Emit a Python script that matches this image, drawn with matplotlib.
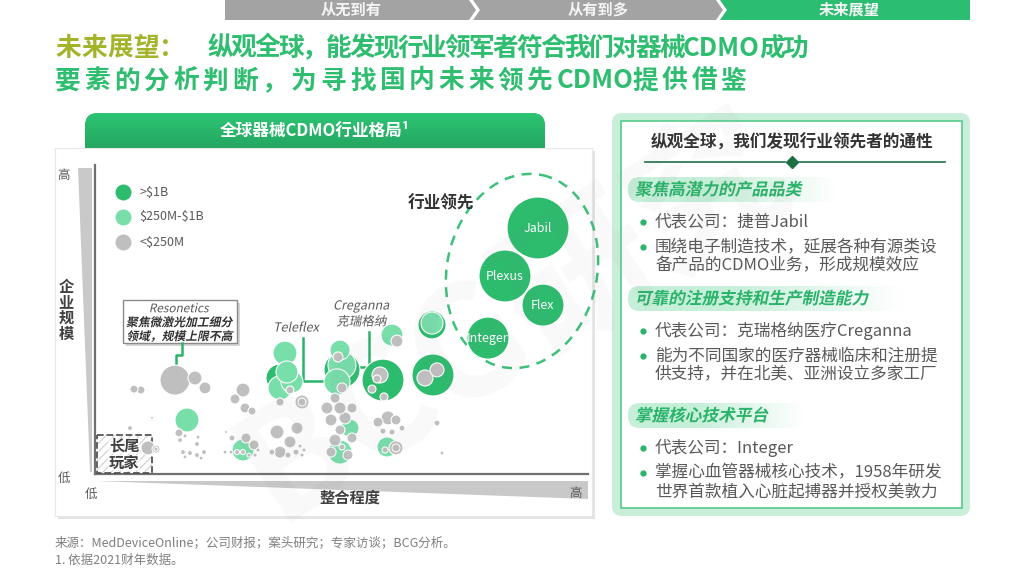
import numpy as np
import matplotlib
matplotlib.use('Agg')
import matplotlib.pyplot as plt
from matplotlib.patches import Polygon, Rectangle, FancyBboxPatch, Ellipse, PathPatch
from matplotlib.textpath import TextPath
from matplotlib.font_manager import FontProperties
from matplotlib.transforms import Affine2D
from matplotlib.colors import to_rgb, LinearSegmentedColormap

plt.rcParams['font.family'] = ['Noto Sans CJK SC', 'DejaVu Sans']
plt.rcParams['hatch.color'] = '#d0d0d0'
plt.rcParams['hatch.linewidth'] = 0.8

# ---------------- 数据 ----------------
steps = ['从无到有', '从有到多', '未来展望']
tiers = ['>$1B', '$250M-$1B', '<$250M']
tier_colors = ['#2dbb6e', '#78deaa', '#bfbfbf']
leaders = ['Jabil', 'Plexus', 'Flex', 'Integer']

# x: 整合程度 (0-100), y: 企业规模 (0-100), r: 气泡半径
big_x = [88.6, 82.0, 89.6, 78.6, 67.6, 57.6, 49.4, 37.0, 67.4]
big_y = [82.0, 66.0, 56.3, 45.3, 33.0, 31.3, 34.7, 32.0, 49.7]
big_r = [31, 26, 21, 21, 21, 21, 18, 14, 14]

mid_x = [38.0, 38.4, 39.4, 37.0, 49.0, 49.4, 48.4, 59.4, 67.4, 18.4, 29.6, 51.0, 49.0, 58.4]
mid_y = [40.3, 34.0, 30.7, 28.7, 41.3, 36.3, 30.7, 46.3, 50.3, 18.0, 8.0, 15.3, 7.3, 9.0]
mid_r = [12, 11, 11, 12, 10, 14, 13, 11, 11, 12, 11, 9, 12, 10]

small_x = [16.0, 20.0, 22.0, 7.8, 9.2, 16.8, 7.0, 11.4, 10.6, 12.2, 12.2,
           17.0, 18.0, 20.6, 20.4, 17.6, 19.0, 20.4, 21.8, 18.0, 21.2, 26.2,
           29.6, 28.0, 30.0, 31.4, 27.4, 30.2, 31.8, 26.0, 27.2, 28.4, 29.6, 30.8, 32.0, 32.6,
           36.4, 40.4, 39.0, 37.0, 38.6, 40.2, 41.4, 41.0, 41.8, 35.4,
           39.0, 37.0, 41.4, 41.4,
           48.6, 49.4, 48.0, 46.4, 49.0, 51.4, 47.2, 50.0, 49.0, 48.0, 51.4, 47.2, 50.6, 49.4,
           57.0, 56.4, 55.4, 57.8, 60.4, 58.6, 56.6, 60.2, 61.4, 57.6, 59.4, 60.2, 60.2, 58.0,
           66.0, 68.4, 68.4, 69.4]
small_y = [31.3, 32.0, 28.7, 28.3, 28.0, 13.7, 15.3, 18.7, 8.7, 8.3, 8.3,
           11.3, 12.7, 12.3, 10.0, 7.3, 7.0, 6.3, 7.3, 5.7, 5.3, 14.0,
           28.0, 25.0, 22.0, 21.0, 12.0, 12.0, 9.7, 7.3, 7.3, 7.3, 7.3, 6.3, 6.3, 8.0,
           14.0, 15.3, 10.7, 7.3, 6.3, 7.3, 6.3, 9.3, 8.0, 7.3,
           28.0, 24.0, 24.0, 24.0,
           39.0, 28.7, 25.3, 22.0, 22.0, 22.0, 18.0, 18.7, 14.7, 11.3, 12.0, 7.3, 6.3, 9.0,
           33.0, 31.7, 28.3, 25.7, 44.3, 18.7, 17.3, 18.0, 15.3, 14.3, 14.0, 8.7, 8.7, 8.0,
           32.0, 34.7, 17.0, 7.0]
small_r = [15, 7, 6, 4, 4, 4, 2.5, 1.5, 7, 4, 2,
           2.5, 2, 2, 2.5, 2.5, 2.5, 2.5, 2.5, 2, 2, 1.5,
           7, 5, 5, 4, 3, 5, 5, 2, 2, 2.5, 2.5, 2, 2, 2,
           7, 6, 6, 6, 3, 3, 2, 2, 2, 3,
           4, 4, 7, 4,
           5, 5, 5, 6, 6, 5, 6, 6, 5, 6, 5, 5, 5, 3,
           8, 4, 4, 4, 6, 7, 5, 5, 3, 3, 3, 7, 4, 3,
           8, 7, 3, 2]

sections = ['聚焦高潜力的产品品类', '可靠的注册支持和生产制造能力', '掌握核心技术平台']
bullets = [
    [['代表公司：捷普Jabil'], ['围绕电子制造技术，延展各种有源类设', '备产品的CDMO业务，形成规模效应']],
    [['代表公司：克瑞格纳医疗Creganna'], ['能为不同国家的医疗器械临床和注册提', '供支持，并在北美、亚洲设立多家工厂']],
    [['代表公司：Integer'], ['掌握心血管器械核心技术，1958年研发', '世界首款植入心脏起搏器并授权美敦力']],
]

GREEN = '#2dbb6e'
DARK = '#404040'
GREY_TXT = '#595959'


def slant(ax, x, y, s, pt, color, weight='normal', ha='center', shear=12, z=5):
    # 伪斜体：用 TextPath 做剪切变换
    size = pt / 0.72
    fp = FontProperties(family='Noto Sans CJK SC', weight=weight)
    tp = TextPath((0, 0), s, size=size, prop=fp)
    ext = tp.get_extents()
    dx = -(ext.x0 + ext.x1) / 2 if ha == 'center' else 0
    tr = Affine2D().translate(dx, -0.36 * size).skew_deg(shear, 0).scale(1, -1).translate(x, y)
    ax.add_patch(PathPatch(tr.transform_path(tp), fc=color, ec='none', lw=0, zorder=z))
    return ext.width


def spaced(ax, x, y, s, adv, **kw):
    # 按固定字距逐字排中文，西文按实际宽度
    renderer = ax.figure.canvas.get_renderer()
    run = ''
    for ch in s + '\0':
        if ch != '\0' and ord(ch) < 0x2000:
            run += ch
            continue
        if run:
            t = ax.text(x, y, run, va='center', **kw)
            x += t.get_window_extent(renderer).width - 1
            run = ''
        if ch != '\0':
            ax.text(x, y, ch, va='center', **kw)
            x += adv
    return x


fig = plt.figure(figsize=(10.24, 5.76), dpi=100)
bg = fig.add_axes([0, 0, 1, 1])
bg.set_xlim(0, 1024)
bg.set_ylim(576, 0)
bg.axis('off')
bg.set_zorder(0)

# ---------------- 顶部导航 ----------------
nav = [[(225, 0), (469, 0), (476, 10), (469, 20), (225, 20)],
       [(473, 0), (716, 0), (723, 10), (716, 20), (473, 20), (480, 10)],
       [(720, 0), (970, 0), (970, 20), (720, 20), (727, 10)]]
nav_c = ['#a3a3a3', '#a3a3a3', '#2bbd72']
for pts, c, lab in zip(nav, nav_c, steps):
    bg.add_patch(Polygon(pts, closed=True, fc=c, ec='none'))
    cx = (pts[0][0] + pts[1][0]) / 2 + 4
    bg.text(cx, 10, lab, color='#f4f4f4', fontsize=11, weight='bold', ha='center', va='center')

# ---------------- 标题 ----------------
spaced(bg, 55, 48, '未来展望：', 26, color='#a3b32a', fontsize=18.5, weight='bold')
spaced(bg, 207, 48, '纵观全球，能发现行业领军者符合我们对器械CDMO成功', 23.8,
       color='#2fbd70', fontsize=18.5, weight='bold')
spaced(bg, 55, 81, '要素的分析判断，为寻找国内未来领先CDMO提供借鉴', 29.5,
       color='#2fbd70', fontsize=18.5, weight='bold')

# ---------------- 左侧面板 ----------------
bg.add_patch(Rectangle((58, 151), 537, 368, fc='#e4e4e4', ec='none'))
tab = FancyBboxPatch((85, 113), 460, 50, boxstyle='round,pad=0,rounding_size=13',
                     fc=GREEN, ec='none')
bg.add_patch(tab)
grad = np.linspace(0, 1, 50).reshape(-1, 1)
im = bg.imshow(grad, extent=(85, 545, 163, 113),
               cmap=LinearSegmentedColormap.from_list('g', ['#2ec474', '#1f9a58']),
               aspect='auto', zorder=1)
im.set_clip_path(tab)
bg.add_patch(Rectangle((55, 148), 537, 368, fc='white', ec='#e8e8e8', lw=0.8, zorder=2))
bg.text(315, 131, '全球器械CDMO行业格局¹', color='white', fontsize=12, weight='bold',
        ha='center', va='center', zorder=3)

# 坐标轴装饰
bg.add_patch(Polygon([(78, 168), (92, 168), (92, 472), (90, 472)], fc='#c9c9c9', ec='none', zorder=3))
bg.add_patch(Polygon([(96, 481), (588, 481), (588, 499)], fc='#c9c9c9', ec='none', zorder=3))
bg.plot([95, 95], [165, 474], color='#707070', lw=1.6, zorder=3)
bg.plot([95, 588], [474, 474], color='#707070', lw=1.6, zorder=3)
bg.text(64, 176, '高', color=GREY_TXT, fontsize=9, ha='center', va='center', zorder=3)
bg.text(64, 478, '低', color=GREY_TXT, fontsize=9, ha='center', va='center', zorder=3)
bg.text(91, 494, '低', color=GREY_TXT, fontsize=9, ha='center', va='center', zorder=3)
bg.text(575, 493, '高', color=GREY_TXT, fontsize=9, ha='center', va='center', zorder=3)
bg.text(350, 498, '整合程度', color=DARK, fontsize=11, weight='bold', ha='center', va='center', zorder=3)
for i, ch in enumerate('企业规模'):
    bg.text(66, 287 + i * 15.5, ch, color=DARK, fontsize=11, weight='bold', ha='center', va='center', zorder=3)

# 图例
for i, (lab, c) in enumerate(zip(tiers, tier_colors)):
    bg.plot(123, 192 + i * 25, 'o', ms=11.5, color=c, mec='none', zorder=3)
    bg.text(139, 192 + i * 25, lab, color=GREY_TXT, fontsize=9, va='center', zorder=3,
            parse_math=False)

# 长尾玩家
bg.add_patch(Rectangle((97, 435), 55, 38, fc='white', ec='#d0d0d0', lw=0,
                       hatch='////', zorder=3))
bg.add_patch(Rectangle((97, 435), 55, 38, fc='none', ec='#555555', ls='--', lw=1.3, zorder=3))
for txt, yy in [('长尾', 446), ('玩家', 463)]:
    bg.text(124, yy, txt, color=DARK, fontsize=11, weight='bold', ha='center', va='center', zorder=4,
            bbox=dict(fc='white', ec='none', pad=0.3, alpha=0.6))

# Resonetics 标注框
bg.add_patch(Rectangle((126, 303), 114, 43, fc='#d5d5d5', ec='none', zorder=3))
bg.add_patch(Rectangle((123, 300), 114, 43, fc='white', ec='#8a8a8a', lw=1, zorder=3))
slant(bg, 180, 308, 'Resonetics', 8.5, GREY_TXT, z=4)
slant(bg, 180, 322, '聚焦微激光加工细分', 8.5, '#333333', weight='bold', z=4)
slant(bg, 180, 336, '领域，规模上限不高', 8.5, '#333333', weight='bold', z=4)
bg.plot([182, 182, 176, 176], [343, 355, 355, 367], color='#2bb36b', lw=1.8, zorder=3)

# Teleflex / Creganna
slant(bg, 297, 327, 'Teleflex', 9, GREY_TXT, z=4)
bg.plot([303, 303, 328], [338, 381, 381], color='#2bb36b', lw=1.8, zorder=3)
slant(bg, 362, 305, 'Creganna', 9, GREY_TXT, z=4)
slant(bg, 362, 321, '克瑞格纳', 9, GREY_TXT, z=4)
bg.plot([369, 369, 358], [332, 367, 367], color='#2bb36b', lw=1.8, zorder=3)

# 行业领先
bg.add_patch(Ellipse((522, 271), 150, 196, angle=12, fc='none', ec='#3cc07a', lw=1.8,
                     ls=(0, (4, 3)), zorder=3))
bg.text(441, 203, '行业领先', color='#333333', fontsize=12, weight='bold', ha='center', va='center', zorder=3)

# ---------------- 气泡图 ----------------
ax = fig.add_axes([95 / 1024, 102 / 576, 500 / 1024, 300 / 576])
ax.set_zorder(1)
ax.patch.set_alpha(0)
ax.set_xlim(0, 100)
ax.set_ylim(0, 100)
ax.axis('off')

for xs, ys, rs, c in [(big_x, big_y, big_r, tier_colors[0]),
                      (mid_x, mid_y, mid_r, tier_colors[1]),
                      (small_x, small_y, small_r, tier_colors[2])]:
    order = np.argsort(rs, kind='stable')[::-1]
    xs, ys, rs = np.array(xs)[order], np.array(ys)[order], np.array(rs)[order]
    ax.scatter(xs, ys, s=(2 * rs * 0.72) ** 2, c=c, edgecolors='white', linewidths=0.8,
               clip_on=False)

for name, x, y in zip(leaders, big_x, big_y):
    ax.text(x, y, name, color='white', fontsize=9, ha='center', va='center')

# ---------------- 右侧面板 ----------------
bg.add_patch(FancyBboxPatch((612, 113), 358, 403, boxstyle='round,pad=0,rounding_size=10',
                            fc='#c9efda', ec='none'))
bg.add_patch(Rectangle((621, 121), 341, 387, fc='white', ec='#55cc8c', lw=1.2))
bg.text(792, 143, '纵观全球，我们发现行业领先者的通性', color='#333333', fontsize=12,
        weight='bold', ha='center', va='center')
bg.plot([645, 785], [162, 162], color='#1f6f45', lw=1.2)
bg.plot([799, 945], [162, 162], color='#1f6f45', lw=1.2)
bg.plot(792, 162, 'D', ms=6, color='#1f6f45')

pill_rgb = to_rgb('#c6efd9')
sec_y = [189, 298, 415]
for sec, items, y0 in zip(sections, bullets, sec_y):
    w = len(sec) * 16.5 + 45
    pill = FancyBboxPatch((628, y0 - 12), w, 25, boxstyle='round,pad=0,rounding_size=12',
                          fc='none', ec='none')
    bg.add_patch(pill)
    fade = np.ones((1, 100, 4))
    fade[..., :3] = pill_rgb
    fade[..., 3] = np.clip(np.linspace(1.6, 0, 100), 0, 1)
    pim = bg.imshow(fade, extent=(628, 628 + w, y0 + 13, y0 - 12), aspect='auto', zorder=1)
    pim.set_clip_path(pill)
    slant(bg, 636, y0, sec, 12, '#2bb36b', weight='bold', ha='left')
    yy = y0 + 33
    for lines in items:
        bg.plot(643, yy, 'o', ms=3.5, color='#2bb36b')
        for ln in lines:
            bg.text(655, yy, ln, color=GREY_TXT, fontsize=12, va='center')
            yy += 19
        yy += 6

# 恢复坐标范围（imshow 会改动）
bg.set_xlim(0, 1024)
bg.set_ylim(576, 0)

# ---------------- 脚注 ----------------
bg.text(55, 543, '来源：MedDeviceOnline；公司财报；案头研究；专家访谈；BCG分析。', color='#7f7f7f',
        fontsize=9, va='center')
bg.text(55, 560, '1. 依据2021财年数据。', color='#7f7f7f', fontsize=9, va='center')

# 水印
fig.text(0.5, 0.45, 'BCG研究', fontsize=110, color='#808080', alpha=0.05, rotation=33,
         ha='center', va='center', weight='bold')

fig.savefig('out.png', dpi=100)
